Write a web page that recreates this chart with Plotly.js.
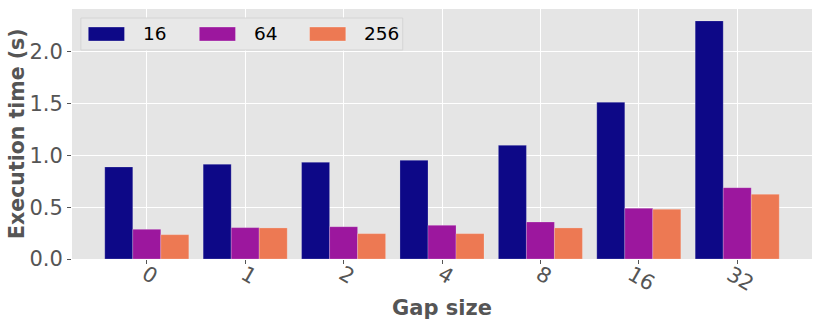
<!DOCTYPE html>
<html>
<head>
<meta charset="utf-8">
<script src="https://cdn.plot.ly/plotly-3.0.1.min.js"></script>
<style>body{margin:0;}#chart{width:822px;height:329px;}</style>
</head>
<body>
<div id="chart"></div>
<script>
var gapSizes = ['0', '1', '2', '4', '8', '16', '32'];
var seriesNames = ['16', '64', '256'];
var time16 = [0.889, 0.915, 0.934, 0.953, 1.098, 1.514, 2.30];
var time64 = [0.287, 0.303, 0.312, 0.325, 0.357, 0.490, 0.689];
var time256 = [0.235, 0.300, 0.245, 0.245, 0.300, 0.480, 0.625];
var colors = ['#0d0887', '#9c179e', '#ed7953'];

var values = [time16, time64, time256];
var data = values.map(function(v, i) {
	return {
		type: 'bar',
		name: seriesNames[i],
		x: gapSizes,
		y: v,
		marker: {color: colors[i], line: {width: 0.6, color: 'rgba(255,255,255,0.35)'}},
		showlegend: false
	};
});

// legend drawn by hand so swatches are wide like the original
var shapes = [{
	type: 'rect', xref: 'paper', yref: 'paper',
	x0: 0.012, x1: 0.447, y0: 0.836, y1: 0.964,
	fillcolor: '#e8e8e8', line: {color: '#d4d4d4', width: 1}
}];
var annotations = [];
var swatchX = [0.022, 0.172, 0.321];
seriesNames.forEach(function(n, i) {
	shapes.push({
		type: 'rect', xref: 'paper', yref: 'paper',
		x0: swatchX[i], x1: swatchX[i] + 0.049, y0: 0.872, y1: 0.928,
		fillcolor: colors[i], line: {color: 'rgba(255,255,255,0.3)', width: 1}
	});
	annotations.push({
		xref: 'paper', yref: 'paper', x: swatchX[i] + 0.071, y: 0.9,
		xanchor: 'left', yanchor: 'middle', showarrow: false,
		text: n, font: {size: 18.5, color: '#000000'}
	});
});

// rotated tick labels, placed on the category axis (x = category index)
gapSizes.forEach(function(g, i) {
	annotations.push({
		xref: 'x', yref: 'paper', x: i, y: 0, yshift: 0, xshift: 3,
		xanchor: 'center', yanchor: 'top', showarrow: false, textangle: 30,
		text: g, font: {size: 21, color: '#555555'}
	});
});

// axis titles as annotations for exact placement
annotations.push({
	xref: 'paper', yref: 'paper', x: 0.5, y: -0.196,
	xanchor: 'center', yanchor: 'middle', showarrow: false,
	text: '<b>Gap size</b>', font: {size: 21, color: '#555555'}
});
annotations.push({
	xref: 'paper', yref: 'paper', x: 0, y: 0.5, xshift: -69,
	xanchor: 'left', yanchor: 'middle', showarrow: false, textangle: -90,
	text: '<b>Execution time (s)</b>', font: {size: 20.5, color: '#555555'}
});

var layout = {
	width: 822,
	height: 329,
	margin: {l: 72, r: 10, t: 9, b: 70},
	paper_bgcolor: '#ffffff',
	plot_bgcolor: '#e5e5e5',
	font: {family: 'DejaVu Sans, sans-serif', size: 21, color: '#555555'},
	barmode: 'group',
	bargap: 0.146,
	bargroupgap: 0,
	xaxis: {
		type: 'category',
		range: [-0.76, 6.76],
		showticklabels: false,
		showgrid: true,
		gridcolor: '#ffffff',
		gridwidth: 1,
		ticks: 'outside',
		ticklen: 4,
		tickcolor: '#555555',
		zeroline: false
	},
	yaxis: {
		range: [0, 2.415],
		tickvals: [0, 0.5, 1.0, 1.5, 2.0],
		ticktext: ['0.0', '0.5', '1.0', '1.5', '2.0'],
		showgrid: true,
		gridcolor: '#ffffff',
		gridwidth: 1,
		ticks: 'outside',
		ticklen: 4,
		tickcolor: '#555555',
		tickfont: {size: 21, color: '#555555'},
		zeroline: false
	},
	shapes: shapes,
	annotations: annotations
};

Plotly.newPlot('chart', data, layout, {displayModeBar: false, staticPlot: true});
</script>
</body>
</html>
